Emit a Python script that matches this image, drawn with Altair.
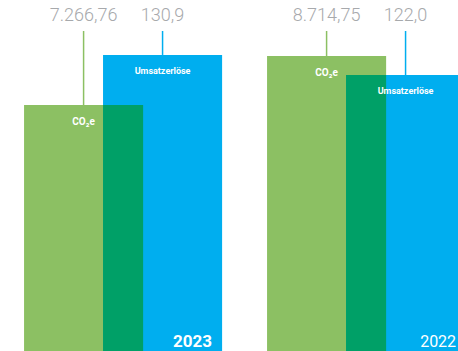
import altair as alt
import pandas as pd

# ---- data ----
years = ["2023", "2022"]
co2 = [7266.76, 8714.75]
umsatz = [130.9, 122.0]
co2_labels = ["7.266,76", "8.714,75"]
umsatz_labels = ["130,9", "122,0"]
series_names = ["CO₂e", "Umsatzerlöse"]

# ---- layout constants (scale units) ----
CO2_MAX = 10369.0      # top of the CO2 axis
UMS_MAX = 155.2        # top of the revenue axis
BAR_W = 0.49           # bar width in group units
BLUE_OFF = 0.325       # offset of the revenue bar inside a group
LEFT = 0.099           # left margin in group units
X_MAX = 458 / 243

rows = []
for i, y in enumerate(years):
    g0 = LEFT + i
    b0 = g0 + BLUE_OFF
    gh = co2[i] / CO2_MAX
    bh = umsatz[i] / UMS_MAX
    rows.append(dict(year=y, g0=g0, g1=g0 + BAR_W, gc=g0 + BAR_W / 2,
                     b0=b0, b1=b0 + BAR_W, bc=b0 + BAR_W / 2,
                     gh=gh, bh=bh, oh=min(gh, bh), zero=0.0,
                     glab=co2_labels[i], blab=umsatz_labels[i],
                     gname=series_names[0], bname=series_names[1]))
df = pd.DataFrame(rows)

GREEN = "#8CC063"
BLUE = "#00AEEF"
DARK = "#00A067"
GREY = "#A7A9AC"
FONT = "Roboto"

xs = alt.Scale(domain=[0, X_MAX], nice=False, zero=False)
ys = alt.Scale(domain=[0, 1], nice=False)
noax = None

base = alt.Chart(df)

green = base.mark_bar(color=GREEN, clip=True).encode(
    x=alt.X("g0:Q", scale=xs, axis=noax), x2="g1:Q",
    y=alt.Y("gh:Q", scale=ys, axis=noax), y2="zero:Q")
blue = base.mark_bar(color=BLUE, clip=True).encode(
    x=alt.X("b0:Q", scale=xs, axis=noax), x2="b1:Q",
    y=alt.Y("bh:Q", scale=ys, axis=noax), y2="zero:Q")
overlap = base.mark_bar(color=DARK, clip=True).encode(
    x=alt.X("b0:Q", scale=xs, axis=noax), x2="g1:Q",
    y=alt.Y("oh:Q", scale=ys, axis=noax), y2="zero:Q")

gline = base.mark_rule(color=GREEN, strokeWidth=1.5).encode(
    x=alt.X("gc:Q", scale=xs, axis=noax),
    y=alt.Y("gh:Q", scale=ys, axis=noax), y2=alt.value(31))
bline = base.mark_rule(color=BLUE, strokeWidth=1.5).encode(
    x=alt.X("bc:Q", scale=xs, axis=noax),
    y=alt.Y("bh:Q", scale=ys, axis=noax), y2=alt.value(31))

gval = base.mark_text(font=FONT, fontSize=18, fontWeight=300, color=GREY,
                      baseline="middle", align="center").encode(
    x=alt.X("gc:Q", scale=xs, axis=noax), y=alt.value(16), text="glab:N")
bval = base.mark_text(font=FONT, fontSize=18, fontWeight=300, color=GREY,
                      baseline="middle", align="center").encode(
    x=alt.X("bc:Q", scale=xs, axis=noax), y=alt.value(16), text="blab:N")

gname = base.mark_text(font=FONT, fontSize=10, fontWeight="bold", color="white",
                       baseline="middle", align="center", dy=17).encode(
    x=alt.X("gc:Q", scale=xs, axis=noax),
    y=alt.Y("gh:Q", scale=ys, axis=noax), text="gname:N")
bname = base.mark_text(font=FONT, fontSize=9, fontWeight="bold", color="white",
                       baseline="middle", align="center", dy=16).encode(
    x=alt.X("bc:Q", scale=xs, axis=noax),
    y=alt.Y("bh:Q", scale=ys, axis=noax), text="bname:N")

year_cur = base.transform_filter(alt.datum.year == years[0]).mark_text(
    font=FONT, fontSize=17, fontWeight="bold", color="white",
    baseline="alphabetic", align="right", dx=-10).encode(
    x=alt.X("b1:Q", scale=xs, axis=noax), y=alt.value(347), text="year:N")
year_prev = base.transform_filter(alt.datum.year == years[1]).mark_text(
    font=FONT, fontSize=16, fontWeight="normal", color="white",
    baseline="alphabetic", align="right", dx=-9).encode(
    x=alt.X("b1:Q", scale=xs, axis=noax), y=alt.value(347), text="year:N")

chart = alt.layer(green, blue, overlap, gline, bline, gval, bval,
                  gname, bname, year_cur, year_prev).properties(
    width=458, height=351, padding=0,
    autosize=alt.AutoSizeParams(type="none"),
).configure_view(stroke=None)

chart.save("out.html", embed_options={"renderer": "svg", "actions": False})
